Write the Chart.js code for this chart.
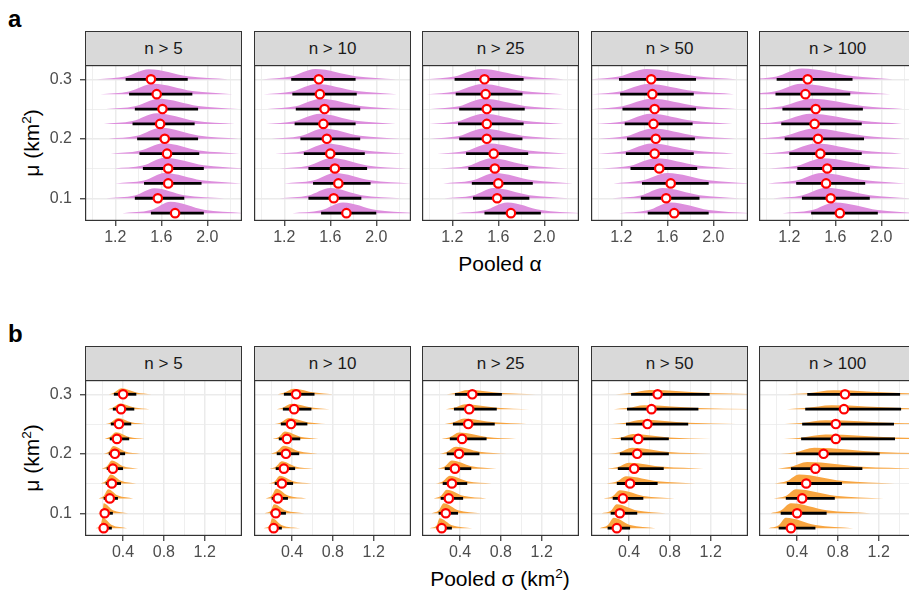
<!DOCTYPE html>
<html><head><meta charset="utf-8">
<script src="https://cdn.jsdelivr.net/npm/chart.js@4.4.0/dist/chart.umd.min.js"></script>
<style>
html,body{margin:0;padding:0;background:#fff;overflow:hidden;width:909px;height:599px}
body{position:relative;font-family:"Liberation Sans",Arial,sans-serif}
.strip{position:absolute;box-sizing:border-box;background:#d9d9d9;border:1px solid #333;color:#1a1a1a;font-size:17px;display:flex;align-items:center;justify-content:center}
canvas{position:absolute}
.tag{position:absolute;font-weight:bold;font-size:24px;color:#000;line-height:1}
.xt{position:absolute;font-size:21px;color:#000;text-align:center;width:400px;line-height:1}
.yt{position:absolute;font-size:21px;color:#000;white-space:nowrap;line-height:1;transform:translate(-50%,-50%) rotate(-90deg)}
sup{font-size:65%;line-height:0}
</style></head><body>
<script>
// ---------- data ----------
const levels = [0.075,0.1,0.125,0.15,0.175,0.2,0.225,0.25,0.275,0.3];
const facets = ['n > 5','n > 10','n > 25','n > 50','n > 100'];
const muTicks = [0.1,0.2,0.3];
const muGrid = [0.1,0.15,0.2,0.25,0.3];
const alphaTicks = [1.2,1.6,2.0];
const alphaGrid = [1.0,1.2,1.4,1.6,1.8,2.0,2.2];
const sigmaTicks = [0.4,0.8,1.2];
const sigmaGrid = [0.2,0.4,0.6,0.8,1.0,1.2,1.4];

// pooled alpha (rows ordered as levels, one array per facet)
const alphaPoint = [
 [1.72,1.57,1.66,1.66,1.65,1.63,1.59,1.61,1.56,1.51],
 [1.74,1.63,1.67,1.64,1.60,1.57,1.54,1.55,1.51,1.50],
 [1.71,1.59,1.60,1.57,1.56,1.50,1.50,1.50,1.49,1.48],
 [1.66,1.59,1.63,1.53,1.49,1.50,1.48,1.49,1.47,1.46],
 [1.64,1.56,1.52,1.53,1.47,1.45,1.42,1.43,1.34,1.36]];
const alphaLo = [
 [1.51,1.37,1.45,1.44,1.41,1.39,1.35,1.37,1.32,1.29],
 [1.52,1.41,1.45,1.41,1.37,1.34,1.29,1.30,1.27,1.26],
 [1.48,1.38,1.37,1.34,1.32,1.26,1.25,1.26,1.23,1.22],
 [1.43,1.37,1.38,1.28,1.24,1.25,1.23,1.21,1.19,1.18],
 [1.39,1.31,1.26,1.27,1.20,1.16,1.13,1.14,1.08,1.09]];
const alphaHi = [
 [1.97,1.80,1.95,1.97,1.93,1.92,1.89,1.92,1.87,1.83],
 [2.00,1.87,1.95,1.92,1.90,1.86,1.82,1.86,1.83,1.82],
 [1.97,1.87,1.90,1.86,1.86,1.81,1.82,1.83,1.81,1.82],
 [1.96,1.88,1.96,1.86,1.83,1.84,1.82,1.85,1.83,1.85],
 [1.97,1.90,1.86,1.90,1.83,1.85,1.83,1.84,1.73,1.75]];
const alphaMode = [
 [1.68,1.54,1.63,1.63,1.62,1.60,1.56,1.58,1.53,1.49],
 [1.71,1.60,1.64,1.61,1.57,1.54,1.51,1.52,1.48,1.47],
 [1.68,1.56,1.57,1.54,1.53,1.47,1.47,1.47,1.46,1.45],
 [1.63,1.56,1.60,1.50,1.46,1.47,1.45,1.46,1.43,1.42],
 [1.60,1.52,1.48,1.49,1.43,1.41,1.38,1.39,1.30,1.31]];
const alphaTailLo = [
 [1.26,1.12,1.20,1.19,1.16,1.14,1.10,1.12,1.07,1.04],
 [1.27,1.16,1.20,1.16,1.12,1.09,1.04,1.05,1.02,1.01],
 [1.23,1.13,1.12,1.09,1.07,1.01,1.00,1.01,0.98,0.97],
 [1.18,1.12,1.13,1.03,0.99,1.00,0.98,0.96,0.94,0.93],
 [1.14,1.06,1.01,1.02,0.95,0.91,0.88,0.89,0.83,0.84]];
const alphaTailHi = [
 [2.32,2.15,2.30,2.32,2.28,2.27,2.24,2.27,2.22,2.18],
 [2.35,2.22,2.30,2.27,2.25,2.21,2.17,2.21,2.18,2.17],
 [2.32,2.22,2.25,2.21,2.21,2.16,2.17,2.18,2.16,2.17],
 [2.31,2.23,2.31,2.21,2.18,2.19,2.17,2.20,2.18,2.20],
 [2.32,2.25,2.21,2.25,2.18,2.20,2.18,2.19,2.08,2.10]];
const alphaPeak = [
 [1.00,0.88,0.91,0.95,0.91,0.97,0.95,0.91,0.91,0.88],
 [0.95,0.90,0.92,0.92,0.90,0.92,0.90,0.90,0.90,0.90],
 [0.95,0.90,0.92,0.90,0.90,0.90,0.90,0.90,0.90,0.90],
 [0.95,0.90,0.92,0.90,0.90,0.90,0.90,0.90,0.90,0.90],
 [0.95,0.92,0.92,0.90,0.90,0.90,0.90,0.90,0.92,0.95]];

// pooled sigma
const sigmaPoint = [
 [0.21,0.22,0.27,0.29,0.30,0.32,0.34,0.36,0.38,0.40],
 [0.22,0.24,0.26,0.30,0.32,0.34,0.35,0.39,0.42,0.44],
 [0.22,0.26,0.29,0.32,0.35,0.39,0.42,0.48,0.49,0.52],
 [0.28,0.31,0.34,0.41,0.45,0.48,0.49,0.58,0.62,0.68],
 [0.34,0.40,0.45,0.49,0.58,0.66,0.78,0.78,0.86,0.87]];
const sigmaLo = [
 [0.18,0.20,0.21,0.23,0.24,0.26,0.27,0.28,0.30,0.31],
 [0.18,0.19,0.20,0.23,0.24,0.25,0.27,0.29,0.31,0.32],
 [0.17,0.19,0.21,0.23,0.25,0.27,0.30,0.33,0.34,0.35],
 [0.19,0.22,0.24,0.28,0.29,0.31,0.32,0.37,0.38,0.42],
 [0.22,0.24,0.29,0.30,0.34,0.39,0.44,0.45,0.48,0.50]];
const sigmaHi = [
 [0.29,0.30,0.35,0.38,0.40,0.42,0.46,0.48,0.51,0.53],
 [0.30,0.34,0.36,0.41,0.43,0.47,0.48,0.55,0.59,0.62],
 [0.32,0.38,0.43,0.47,0.51,0.59,0.66,0.74,0.76,0.81],
 [0.41,0.48,0.54,0.68,0.74,0.79,0.79,0.98,1.08,1.19],
 [0.58,0.69,0.77,0.84,1.04,1.21,1.36,1.35,1.42,1.41]];
const sigmaMode = [
 [0.20,0.21,0.255,0.28,0.29,0.305,0.33,0.35,0.37,0.385],
 [0.205,0.225,0.245,0.28,0.30,0.32,0.33,0.37,0.395,0.415],
 [0.20,0.24,0.27,0.30,0.32,0.36,0.39,0.44,0.45,0.48],
 [0.25,0.28,0.31,0.37,0.40,0.43,0.44,0.52,0.55,0.60],
 [0.29,0.34,0.39,0.42,0.50,0.57,0.68,0.68,0.74,0.76]];
const sigmaTailLo = [
 [0.13,0.15,0.16,0.18,0.19,0.21,0.22,0.23,0.25,0.26],
 [0.12,0.13,0.14,0.17,0.18,0.19,0.21,0.23,0.25,0.26],
 [0.10,0.12,0.14,0.16,0.18,0.20,0.22,0.25,0.26,0.27],
 [0.11,0.13,0.15,0.18,0.19,0.20,0.21,0.24,0.25,0.27],
 [0.12,0.14,0.17,0.18,0.21,0.24,0.27,0.28,0.30,0.31]];
const sigmaTailHi = [
 [0.44,0.45,0.50,0.53,0.55,0.57,0.61,0.63,0.66,0.68],
 [0.48,0.52,0.54,0.59,0.61,0.65,0.66,0.73,0.77,0.80],
 [0.52,0.60,0.66,0.71,0.76,0.86,0.95,1.05,1.08,1.14],
 [0.66,0.76,0.85,1.05,1.13,1.20,1.20,1.45,1.58,1.70],
 [0.95,1.12,1.25,1.36,1.65,1.90,2.10,2.10,2.20,2.20]];
const sigmaPeak = [
 [0.91,0.88,0.82,0.80,0.71,0.68,0.59,0.53,0.50,0.53],
 [0.88,0.80,0.86,0.68,0.65,0.71,0.65,0.53,0.47,0.50],
 [0.88,0.88,0.77,0.68,0.71,0.62,0.56,0.50,0.44,0.38],
 [0.91,0.80,0.71,0.65,0.53,0.53,0.44,0.38,0.35,0.38],
 [0.91,0.88,0.80,0.80,0.59,0.53,0.38,0.33,0.35,0.35]];

// relative slab height at tailLo, lower bound, mode, upper bound, tailHi
const slabAnchor = [0, 0.27, 1, 0.3, 0];

// ---------- layout / style ----------
const panelLefts = [85, 254, 422, 591, 759];
const panelW = 157, plotH = 156, stripH = 34, xAxisH = 32, yAxisW = 50;
const yMin = 0.0618, yMax = 0.324, slabMax = 0.019;

const rowsCfg = [
 {tag:'a', plotTop:65, xmin:0.9365, xmax:2.302, grid:alphaGrid, major:alphaTicks, color:'#dd8edd',
  point:alphaPoint, lo:alphaLo, hi:alphaHi, mode:alphaMode, tLo:alphaTailLo, tHi:alphaTailHi, peak:alphaPeak,
  title:'Pooled α'},
 {tag:'b', plotTop:380, xmin:0.027, xmax:1.566, grid:sigmaGrid, major:sigmaTicks, color:'#f8a540',
  point:sigmaPoint, lo:sigmaLo, hi:sigmaHi, mode:sigmaMode, tLo:sigmaTailLo, tHi:sigmaTailHi, peak:sigmaPeak,
  title:'Pooled σ (km<sup>2</sup>)'}
];

Chart.defaults.font.family = '"Liberation Sans", Arial, sans-serif';
const isIn = (arr, v) => arr.some(m => Math.abs(m - v) < 1e-9);

const framePlugin = {id:'frame', afterDraw(ch){
  const a = ch.chartArea, g = ch.ctx;
  g.save(); g.strokeStyle = '#333'; g.lineWidth = 1.2;
  g.strokeRect(a.left + 0.6, a.top + 0.6, a.right - a.left - 1.2, a.bottom - a.top - 1.2);
  g.restore();
}};

function zeroPad(s){ s.paddingLeft = 0; s.paddingRight = 0; s.paddingTop = 0; s.paddingBottom = 0; }

function addDiv(cls, html, style){
  const d = document.createElement('div'); d.className = cls; d.innerHTML = html;
  Object.assign(d.style, style); document.body.appendChild(d); return d;
}

rowsCfg.forEach((R) => {
  addDiv('tag', R.tag, {left:'8px', top:(R.plotTop - 58) + 'px'});
  addDiv('yt', 'μ (km<sup>2</sup>)', {left:'31px', top:(R.plotTop + plotH/2) + 'px'});
  addDiv('xt', R.title, {left:(500 - 200) + 'px', top:(R.plotTop + plotH + 32) + 'px'});
  facets.forEach((f, c) => {
    addDiv('strip', f, {left:panelLefts[c] + 'px', top:(R.plotTop - stripH) + 'px', width:panelW + 'px', height:(stripH + 1) + 'px'});
    const first = c === 0;
    const cv = document.createElement('canvas');
    const w = panelW + (first ? yAxisW : 0), h = plotH + xAxisH;
    cv.width = w; cv.height = h;
    cv.style.left = (panelLefts[c] - (first ? yAxisW : 0)) + 'px';
    cv.style.top = R.plotTop + 'px';
    cv.style.width = w + 'px'; cv.style.height = h + 'px';
    document.body.appendChild(cv);

    const datasets = [{
      type:'scatter', order:0,
      data: levels.map((lv, i) => ({x:R.point[c][i], y:lv})),
      pointRadius:4.2, pointBorderWidth:2.2, pointBackgroundColor:'#ffffff', pointBorderColor:'#ff0000'
    }];
    levels.forEach((lv, i) => {
      datasets.push({type:'line', order:1,
        data:[{x:R.lo[c][i], y:lv}, {x:R.hi[c][i], y:lv}],
        borderColor:'#000', borderWidth:2.8, pointRadius:0, borderCapStyle:'butt'});
      const xs = [R.tLo[c][i], R.lo[c][i], R.mode[c][i], R.hi[c][i], R.tHi[c][i]];
      datasets.push({type:'line', order:2,
        data: xs.map((x, k) => ({x, y: lv + slabAnchor[k] * R.peak[c][i] * slabMax})),
        borderWidth:0, pointRadius:0, fill:{value:lv}, backgroundColor:R.color,
        cubicInterpolationMode:'monotone'});
    });

    new Chart(cv, {
      data:{datasets},
      plugins:[framePlugin],
      options:{
        responsive:false, animation:false, devicePixelRatio:1,
        layout:{padding:0, autoPadding:false},
        plugins:{legend:{display:false}, tooltip:{enabled:false}},
        scales:{
          x:{type:'linear', min:R.xmin, max:R.xmax,
            afterBuildTicks:s => { s.ticks = R.grid.map(v => ({value:v})); },
            ticks:{autoSkip:false, maxRotation:0, padding:2, color:'#4d4d4d', font:{size:16},
              callback:v => isIn(R.major, v) ? v.toFixed(1) : ''},
            grid:{color:'#ebebeb', lineWidth:ctx => (ctx.tick && isIn(R.major, ctx.tick.value)) ? 1.5 : 0.8,
              drawTicks:true, tickLength:5, tickWidth:1.2,
              tickColor:ctx => (ctx.tick && isIn(R.major, ctx.tick.value)) ? '#333' : 'rgba(0,0,0,0)'},
            border:{display:false},
            afterFit:s => { s.height = xAxisH; zeroPad(s); }
          },
          y:{type:'linear', min:yMin, max:yMax,
            afterBuildTicks:s => { s.ticks = muGrid.map(v => ({value:v})); },
            ticks:{display:first, autoSkip:false, padding:8, color:'#4d4d4d', font:{size:16},
              callback:v => isIn(muTicks, v) ? v.toFixed(1) : ''},
            grid:{color:'#ebebeb', lineWidth:ctx => (ctx.tick && isIn(muTicks, ctx.tick.value)) ? 1.5 : 0.8,
              drawTicks:first, tickLength:5, tickWidth:1.2,
              tickColor:ctx => (ctx.tick && isIn(muTicks, ctx.tick.value)) ? '#333' : 'rgba(0,0,0,0)'},
            border:{display:false},
            afterFit:s => { s.width = first ? yAxisW : 0; zeroPad(s); }
          }
        }
      }
    });
  });
});
</script>
</body></html>
